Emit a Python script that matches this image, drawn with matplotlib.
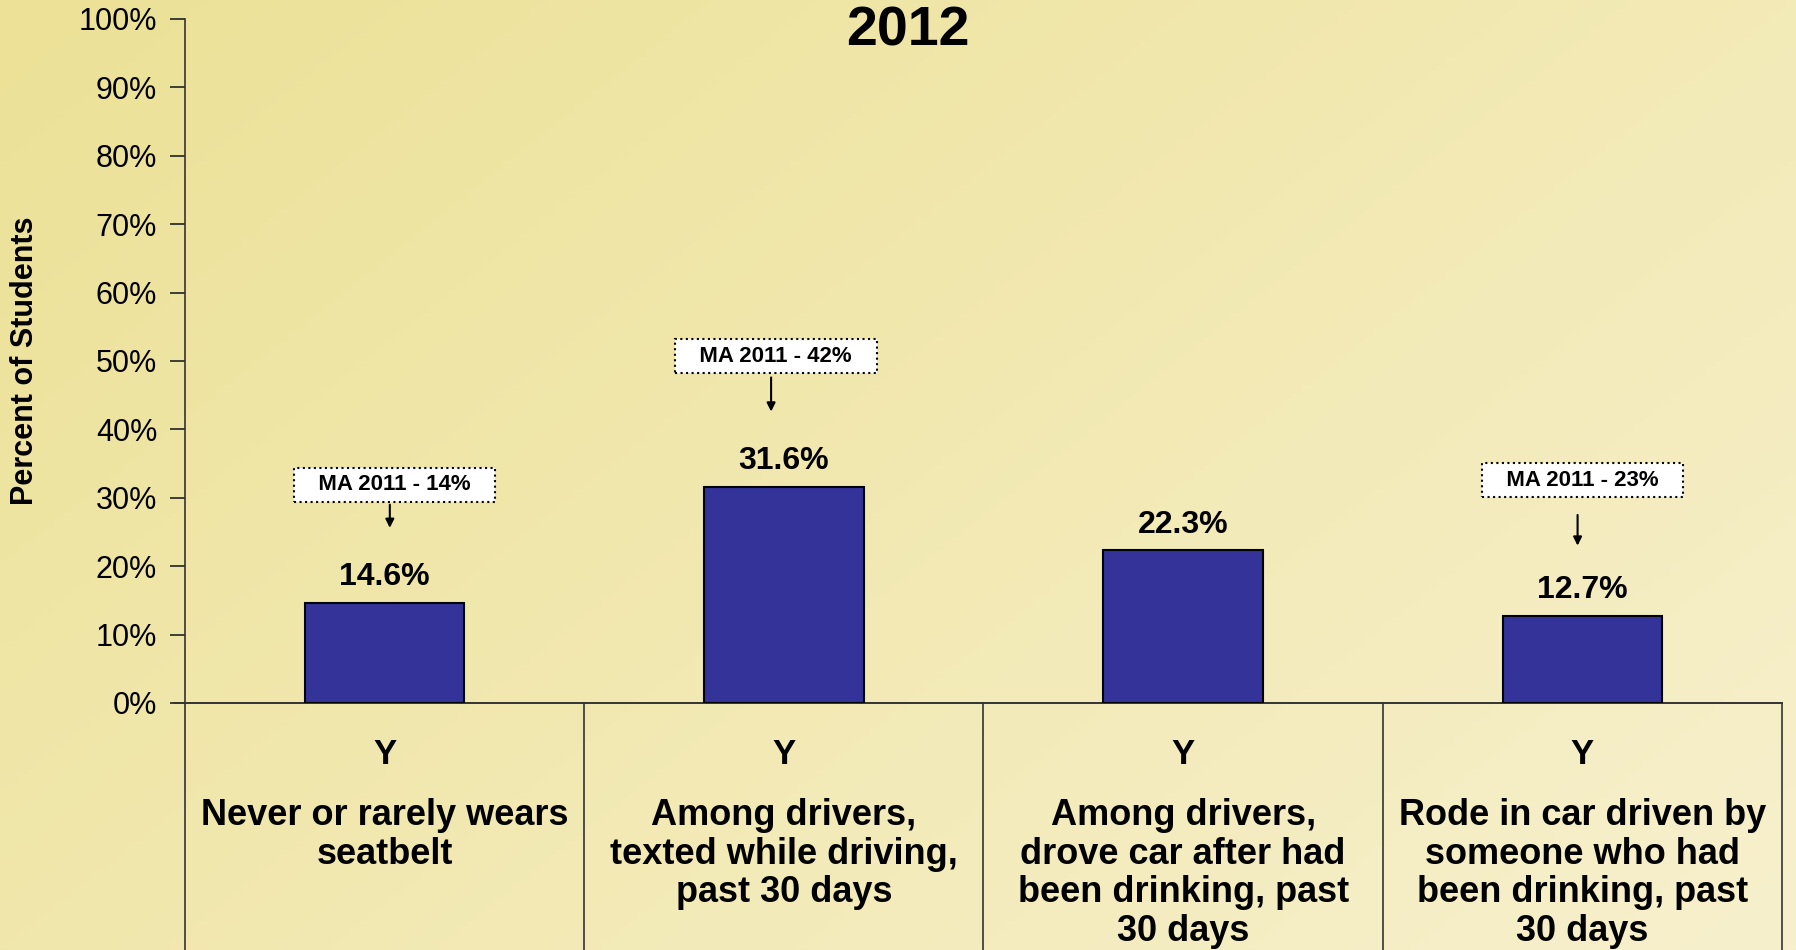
import numpy as np
import matplotlib.pyplot as plt

# --- Data ---
categories = [
    "Never or rarely wears\nseatbelt",
    "Among drivers,\ntexted while driving,\npast 30 days",
    "Among drivers,\ndrove car after had\nbeen drinking, past\n30 days",
    "Rode in car driven by\nsomeone who had\nbeen drinking, past\n30 days",
]
row_marks = ["Y", "Y", "Y", "Y"]
values_2012 = [14.6, 31.6, 22.3, 12.7]
ma_2011_labels = ["MA 2011 - 14%", "MA 2011 - 42%", None, "MA 2011 - 23%"]

# --- Layout of the callout boxes (x offset, box centre y, arrow start y, arrow end y) ---
callout_layout = [
    (0.025, 31.9, 29.4, 25.2),
    (-0.02, 50.7, 48.0, 42.2),
    None,
    (0.0, 32.6, 27.9, 22.6),
]

plt.rcParams['font.family'] = ['Liberation Sans', 'DejaVu Sans']

fig = plt.figure(figsize=(17.96, 9.5), dpi=100)

# background gradient
bg = fig.add_axes([0, 0, 1, 1], zorder=-10)
gx, gy = np.meshgrid(np.linspace(0, 1, 200), np.linspace(0, 1, 200))
t = np.clip((gx * 0.6 + gy * 0.4), 0, 1)
c0 = np.array([236, 225, 150]) / 255.0
c1 = np.array([247, 240, 205]) / 255.0
img = c0[None, None, :] * (1 - t[..., None]) + c1[None, None, :] * t[..., None]
bg.imshow(img, aspect='auto', extent=[0, 1, 0, 1], origin='upper')
bg.axis('off')

ax = fig.add_axes([185 / 1796, 1 - 703 / 950, (1782 - 185) / 1796, (703 - 19) / 950])
ax.patch.set_alpha(0)

x = np.arange(len(categories))
ax.bar(x, values_2012, width=0.4, color='#333399', edgecolor='black', linewidth=1.5, zorder=3)

for xi, v in zip(x, values_2012):
    ax.text(xi, v + 1.6, f"{v:.1f}%", ha='center', va='bottom',
            fontsize=23, fontweight='bold', color='black')

for xi, lab, lay in zip(x, ma_2011_labels, callout_layout):
    if lab is None:
        continue
    dx, yc, ya, yb = lay
    ax.text(xi + dx, yc, "   " + lab + "   ", ha='center', va='center',
            fontsize=16, fontweight='bold', color='black', zorder=5,
            bbox=dict(boxstyle='square,pad=0.28', facecolor='white',
                      edgecolor='black', linestyle=':', linewidth=1.5))
    ax.annotate("", xy=(xi + dx - 0.012, yb), xytext=(xi + dx - 0.012, ya),
                arrowprops=dict(arrowstyle='-|>,head_length=0.5,head_width=0.25',
                                color='black', lw=1.5))

ax.set_xlim(-0.5, len(categories) - 0.5)
ax.set_ylim(0, 100)
ax.set_yticks(np.arange(0, 101, 10))
ax.set_yticklabels([f"{v}%" for v in range(0, 101, 10)])
ax.tick_params(axis='y', labelsize=22, length=11, width=1.2, pad=9, colors='#222222',
               labelcolor='black')
ax.set_xticks([])
for s in ['top', 'right']:
    ax.spines[s].set_visible(False)
ax.spines['left'].set_color('#333333')
ax.spines['left'].set_linewidth(1.2)
ax.spines['bottom'].set_color('#333333')
ax.spines['bottom'].set_linewidth(1.2)

# data-table style grid below the axis
trans = ax.get_xaxis_transform()
ax.plot([-0.5 - 11 / 399, len(categories) - 0.5], [0, 0], transform=trans,
        color='#333333', lw=1.2, clip_on=False)
for b in np.arange(-0.5, len(categories), 1.0):
    ax.plot([b, b], [0, -0.5], transform=trans, color='#333333', lw=1.2, clip_on=False)

for xi, mark, cat in zip(x, row_marks, categories):
    ax.text(xi, -51 / 684, mark, transform=trans, ha='center', va='center',
            fontsize=25, fontweight='bold')
    ax.text(xi, -95 / 684, cat, transform=trans, ha='center', va='top',
            fontsize=26, fontweight='bold', linespacing=1.13)

fig.text(908 / 1796, 1 - 31 / 950, "2012", ha='center', va='center',
         fontsize=40, fontweight='bold')
fig.text(25 / 1796, 1 - 361 / 950, "Percent of Students", ha='center', va='center',
         rotation=90, fontsize=22, fontweight='bold')

fig.savefig("out.png", dpi=100)
